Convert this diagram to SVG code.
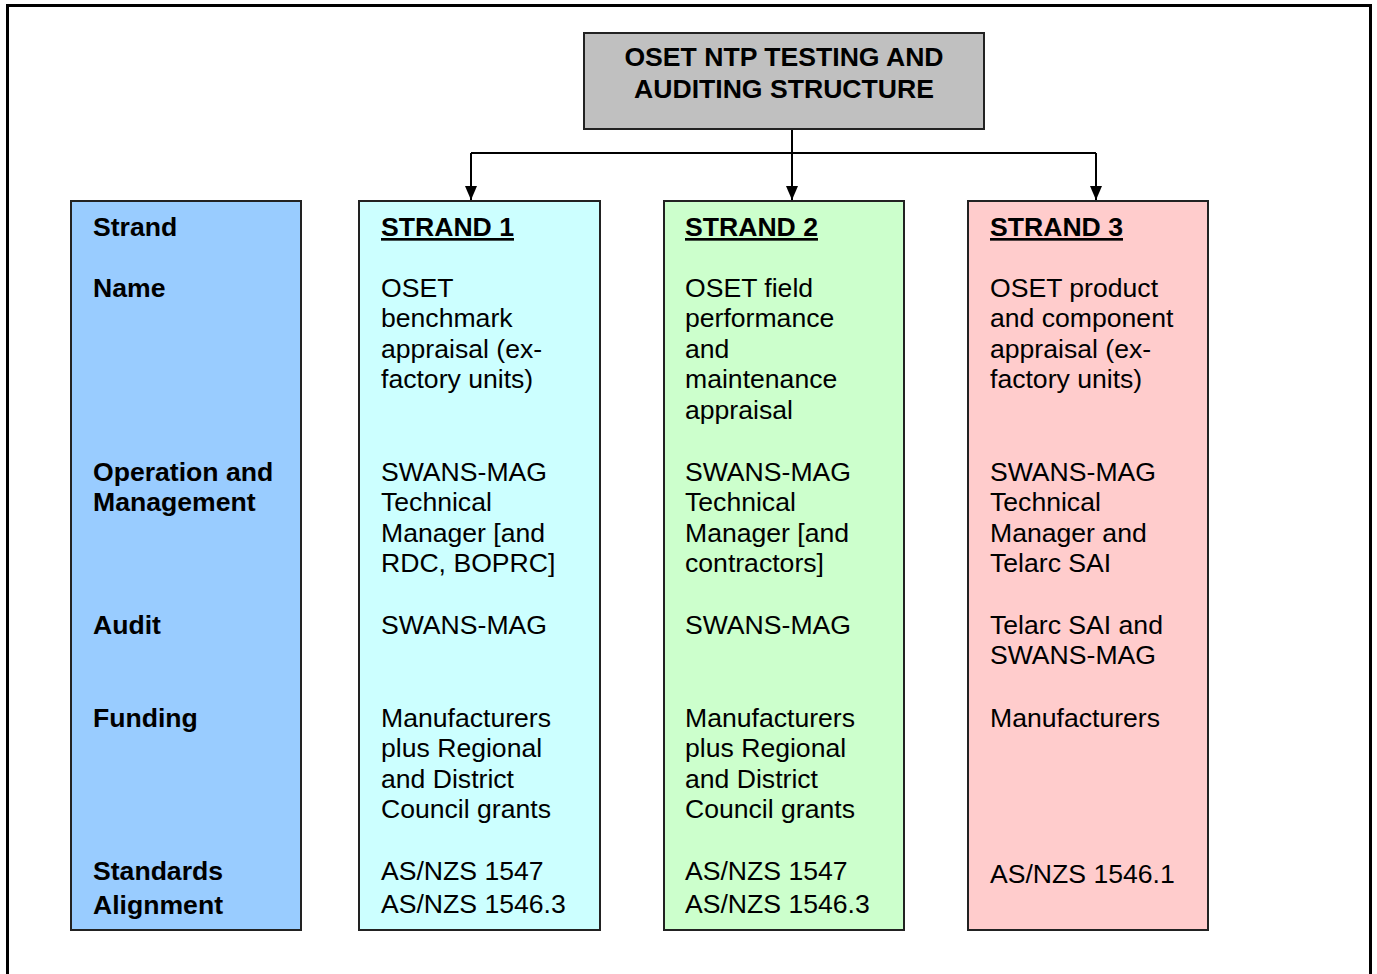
<svg xmlns="http://www.w3.org/2000/svg" width="1377" height="974" viewBox="0 0 1377 974">
<defs>
<style>
.t{font-family:"Liberation Sans",Arial,sans-serif;font-size:26.6px;fill:#000}
.b{font-weight:bold}
.u{text-decoration:underline}
.box{stroke:#222;stroke-width:2}
.con{fill:none;stroke:#000;stroke-width:2}
</style>
<marker id="ah" viewBox="0 0 14 12" refX="14" refY="6" markerWidth="14" markerHeight="12" markerUnits="userSpaceOnUse" orient="auto">
<path d="M0,0 L14,6 L0,12 Z" fill="#000"/>
</marker>
</defs>
<rect x="0" y="0" width="1377" height="974" fill="#fff"/>
<rect id="frame" x="7.5" y="5.5" width="1363" height="1000" fill="none" stroke="#000" stroke-width="3"/>
<g id="connectors">
<path class="con" d="M792,129 V153"/>
<path class="con" d="M471,153 H1096"/>
<path class="con" d="M471,153 V200" marker-end="url(#ah)"/>
<path class="con" d="M792,153 V200" marker-end="url(#ah)"/>
<path class="con" d="M1096,153 V200" marker-end="url(#ah)"/>
</g>
<g id="title">
<rect class="box" x="584" y="33" width="400" height="96" fill="#c0c0c0"/>
<text class="t b" x="784" y="66" text-anchor="middle">OSET NTP TESTING AND</text>
<text class="t b" x="784" y="98" text-anchor="middle">AUDITING STRUCTURE</text>
</g>
<g id="labels">
<rect class="box" x="71" y="201" width="230" height="729" fill="#99ccff"/>
<text class="t b" x="93" y="236">Strand</text>
<text class="t b" x="93" y="297">Name</text>
<text class="t b" x="93" y="481">Operation and</text>
<text class="t b" x="93" y="511">Management</text>
<text class="t b" x="93" y="634">Audit</text>
<text class="t b" x="93" y="727">Funding</text>
<text class="t b" x="93" y="880">Standards</text>
<text class="t b" x="93" y="914">Alignment</text>
</g>
<g id="strand1">
<rect class="box" x="359" y="201" width="241" height="729" fill="#ccffff"/>
<text class="t b u" x="381" y="236">STRAND 1</text>
<text class="t" x="381" y="297">OSET</text>
<text class="t" x="381" y="327">benchmark</text>
<text class="t" x="381" y="358">appraisal (ex-</text>
<text class="t" x="381" y="388">factory units)</text>
<text class="t" x="381" y="481">SWANS-MAG</text>
<text class="t" x="381" y="511">Technical</text>
<text class="t" x="381" y="542">Manager [and</text>
<text class="t" x="381" y="572">RDC, BOPRC]</text>
<text class="t" x="381" y="634">SWANS-MAG</text>
<text class="t" x="381" y="727">Manufacturers</text>
<text class="t" x="381" y="757">plus Regional</text>
<text class="t" x="381" y="788">and District</text>
<text class="t" x="381" y="818">Council grants</text>
<text class="t" x="381" y="880">AS/NZS 1547</text>
<text class="t" x="381" y="913">AS/NZS 1546.3</text>
</g>
<g id="strand2">
<rect class="box" x="664" y="201" width="240" height="729" fill="#ccffcc"/>
<text class="t b u" x="685" y="236">STRAND 2</text>
<text class="t" x="685" y="297">OSET field</text>
<text class="t" x="685" y="327">performance</text>
<text class="t" x="685" y="358">and</text>
<text class="t" x="685" y="388">maintenance</text>
<text class="t" x="685" y="419">appraisal</text>
<text class="t" x="685" y="481">SWANS-MAG</text>
<text class="t" x="685" y="511">Technical</text>
<text class="t" x="685" y="542">Manager [and</text>
<text class="t" x="685" y="572">contractors]</text>
<text class="t" x="685" y="634">SWANS-MAG</text>
<text class="t" x="685" y="727">Manufacturers</text>
<text class="t" x="685" y="757">plus Regional</text>
<text class="t" x="685" y="788">and District</text>
<text class="t" x="685" y="818">Council grants</text>
<text class="t" x="685" y="880">AS/NZS 1547</text>
<text class="t" x="685" y="913">AS/NZS 1546.3</text>
</g>
<g id="strand3">
<rect class="box" x="968" y="201" width="240" height="729" fill="#ffcccc"/>
<text class="t b u" x="990" y="236">STRAND 3</text>
<text class="t" x="990" y="297">OSET product</text>
<text class="t" x="990" y="327">and component</text>
<text class="t" x="990" y="358">appraisal (ex-</text>
<text class="t" x="990" y="388">factory units)</text>
<text class="t" x="990" y="481">SWANS-MAG</text>
<text class="t" x="990" y="511">Technical</text>
<text class="t" x="990" y="542">Manager and</text>
<text class="t" x="990" y="572">Telarc SAI</text>
<text class="t" x="990" y="634">Telarc SAI and</text>
<text class="t" x="990" y="664">SWANS-MAG</text>
<text class="t" x="990" y="727">Manufacturers</text>
<text class="t" x="990" y="883">AS/NZS 1546.1</text>
</g>
</svg>
